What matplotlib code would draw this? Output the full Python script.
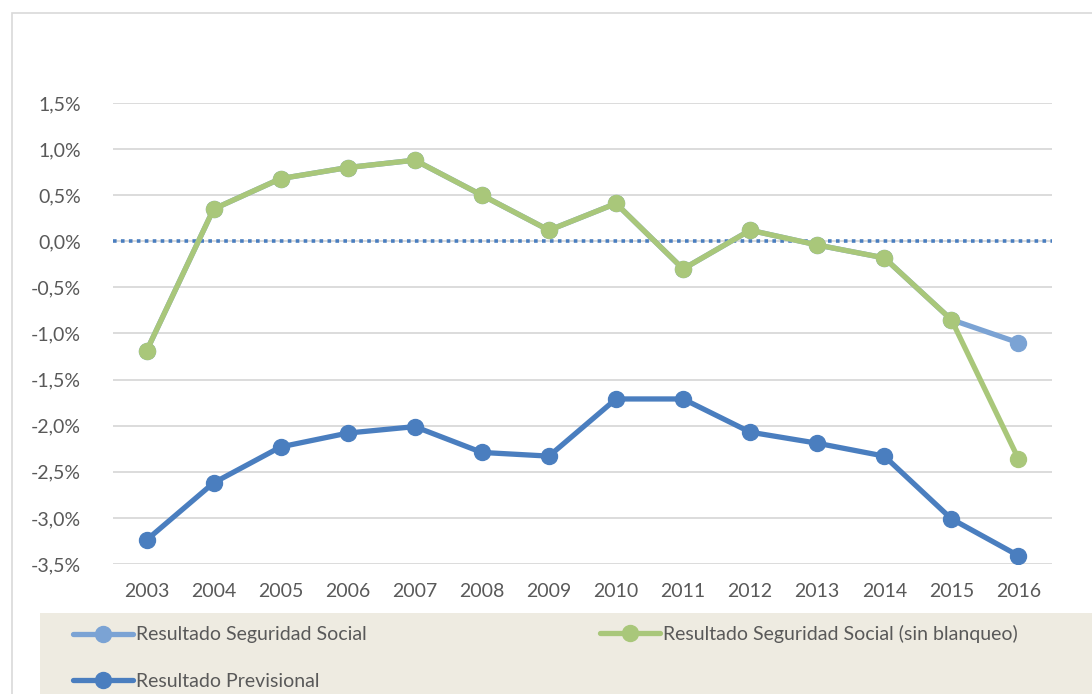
import matplotlib.pyplot as plt
from matplotlib.patches import Rectangle
from matplotlib.ticker import FuncFormatter

plt.rcParams['font.family'] = ['Lato', 'DejaVu Sans']

years = [str(y) for y in range(2003, 2017)]

# valores en % del PIB
seg_social = [-1.19, 0.35, 0.68, 0.80, 0.88, 0.50, 0.12, 0.41, -0.30, 0.12, -0.04, -0.18, -0.85, -1.10]
seg_social_sin_blanqueo = [-1.19, 0.35, 0.68, 0.80, 0.88, 0.50, 0.12, 0.41, -0.30, 0.12, -0.04, -0.18, -0.85, -2.36]
previsional = [-3.24, -2.62, -2.23, -2.08, -2.01, -2.29, -2.33, -1.71, -1.71, -2.07, -2.19, -2.33, -3.01, -3.41]

c_light = '#7ba3d4'
c_green = '#a9c77a'
c_dark = '#4a7ebf'
W, H = 1092, 694

fig = plt.figure(figsize=(W / 100, H / 100), dpi=100)

# marco exterior del grafico
fig.patches.append(Rectangle((12 / W, -0.1), 1.2, 1 - 13 / H + 0.1, transform=fig.transFigure,
                             facecolor='white', edgecolor='#d9d9d9', linewidth=1.2, zorder=-2))
# fondo de la leyenda
fig.patches.append(Rectangle((40 / W, -0.1), 1.2, 0.1 + (H - 613) / H, transform=fig.transFigure,
                             facecolor='#eeebe1', edgecolor='none', zorder=-1))

ax = fig.add_axes([113 / W, 1 - 564 / H, (1052 - 113) / W, (564 - 103) / H])
ax.set_zorder(2)
ax.set_facecolor('none')
x = list(range(len(years)))

kw = dict(linewidth=3.8, marker='o', markersize=11.5, solid_capstyle='round')
l1, = ax.plot(x, seg_social, color=c_light, label='Resultado Seguridad Social', **kw)
l2, = ax.plot(x, seg_social_sin_blanqueo, color=c_green,
              label='Resultado Seguridad Social (sin blanqueo)', **kw)
l3, = ax.plot(x, previsional, color=c_dark, label='Resultado Previsional', **kw)
ax.axhline(0, color=c_dark, linestyle=(0, (1, 1.2)), linewidth=2.6, zorder=1.5)

ax.set_xlim(-0.5, len(years) - 0.5)
ax.set_ylim(-3.5, 1.5)
ax.set_yticks([1.5, 1.0, 0.5, 0.0, -0.5, -1.0, -1.5, -2.0, -2.5, -3.0, -3.5])
ax.yaxis.set_major_formatter(FuncFormatter(lambda v, p: f'{v:.1f}%'.replace('.', ',')))
ax.set_xticks(x)
ax.set_xticklabels(years)
ax.grid(axis='y', color='#d9d9d9', linewidth=1.3)
ax.set_axisbelow(True)
for s in ax.spines.values():
    s.set_visible(False)
ax.tick_params(axis='both', length=0, labelsize=14, colors='#595959')
ax.tick_params(axis='y', pad=23)
ax.tick_params(axis='x', pad=14)

leg_kw = dict(frameon=False, fontsize=14, handlelength=3.1, handletextpad=0.15,
              labelspacing=1.5, labelcolor='#595959', borderpad=0, borderaxespad=0)
leg1 = fig.legend(handles=[l1, l3], loc='center left', bbox_to_anchor=(73 / W, 1 - 658 / H), **leg_kw)
leg2 = fig.legend(handles=[l2], loc='center left', bbox_to_anchor=(600 / W, 1 - 634 / H), **leg_kw)
for lg in (leg1, leg2):
    lg.set_zorder(3)

fig.savefig('out.png', dpi=100)
